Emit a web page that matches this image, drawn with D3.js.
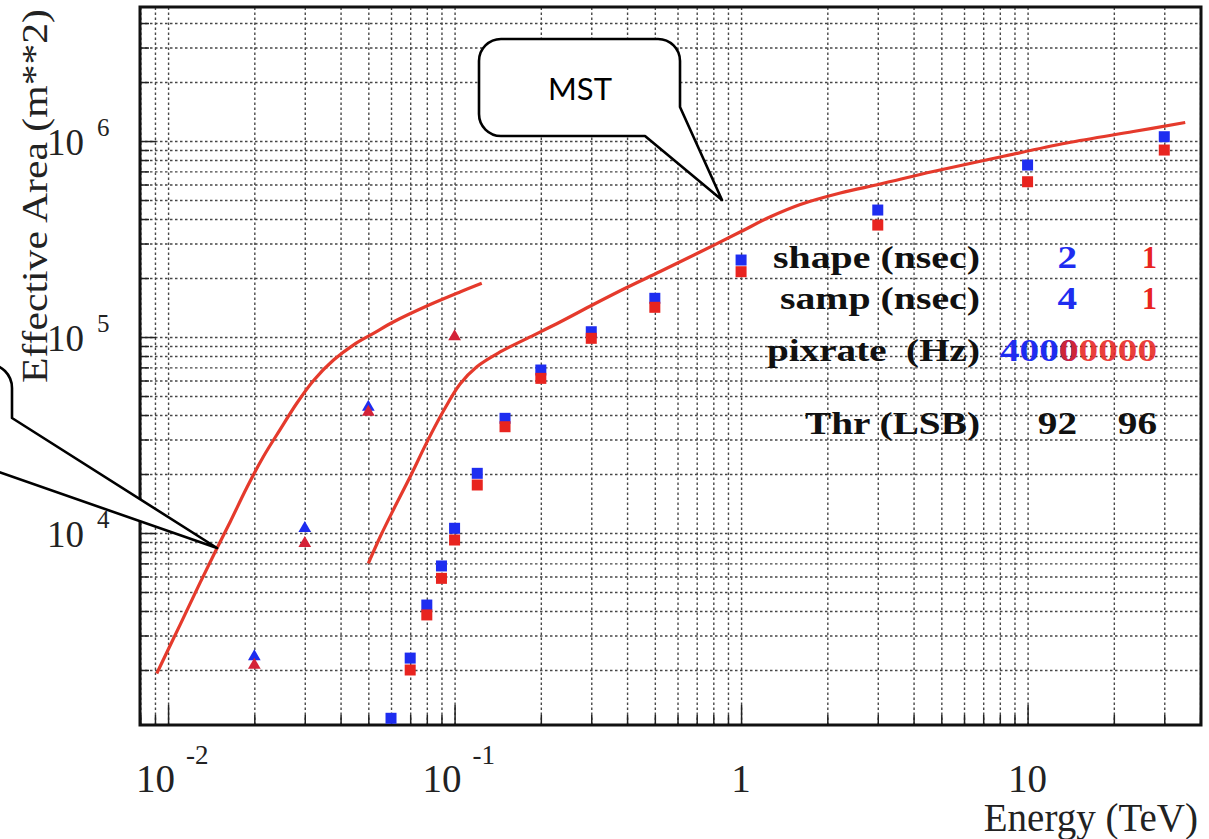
<!DOCTYPE html>
<html>
<head>
<meta charset="utf-8">
<script src="https://cdn.jsdelivr.net/npm/d3@7"></script>
<style>
  html, body { margin: 0; padding: 0; background: #fff; }
  svg { display: block; }
</style>
</head>
<body>
<svg id="chart" width="1209" height="839"></svg>
<script>
// ---------------- DATA ----------------
// Left (LST) red curve
const lstCurveE = [0.00913, 0.0110, 0.0129, 0.0148, 0.0165, 0.0188, 0.0215, 0.0246, 0.0281, 0.0322, 0.0378, 0.0443, 0.0521, 0.0611, 0.0800, 0.1045, 0.1244];
const lstCurveA = [1920, 3390, 5530, 8330, 11450, 16970, 24500, 33700, 45800, 60000, 76300, 91000, 104400, 119300, 143900, 169700, 187900];
// MST red curve
const mstCurveE = [0.0500, 0.0550, 0.0611, 0.0699, 0.0800, 0.0914, 0.1045, 0.1196, 0.1442, 0.1786, 0.2335, 0.305, 0.399, 0.522, 0.719, 0.992, 1.26, 1.61, 2.22, 3.06, 4.68, 8.02, 13.7, 23.4, 35.5];
const mstCurveA = [7000, 9570, 13100, 19300, 29000, 41900, 57600, 70600, 83900, 98200, 119300, 146500, 178900, 215900, 271500, 343400, 409400, 474300, 542900, 603500, 698900, 828600, 977000, 1118000, 1243000];
// square markers (blue = shape 2 / samp 4, red = shape 1 / samp 1)
const squareE      = [0.06, 0.07, 0.08, 0.09, 0.1, 0.12, 0.15, 0.2, 0.3, 0.5, 1, 3, 10, 30];
const blueSquareA  = [1134, 2300, 4290, 6790, 10570, 20160, 38470, 67870, 106400, 157600, 247100, 444600, 754300, 1052000];
const redSquareA   = [null, 2000, 3820, 5870, 9210, 17580, 34860, 61530, 98500, 141800, 215400, 372600, 619900, 899500];
// triangle markers
const triE         = [0.02, 0.03, 0.05, 0.1];
const blueTriA     = [2340, 10570, 43950, null];
const redTriA      = [2120, 8860, 41430, 100400];
// axis ticks
const xMajorTicks  = [0.01, 0.1, 1, 10];
const xTickBase    = ["10", "10", "1", "10"];
const xTickExp     = ["-2", "-1", "", ""];
const yMajorTicks  = [1e4, 1e5, 1e6];
const yTickBase    = ["10", "10", "10"];
const yTickExp     = ["4", "5", "6"];
// legend table
const legendLabels = ["shape (nsec)", "samp (nsec)", "pixrate  (Hz)", "Thr (LSB)"];
const legendBlue   = ["2", "4", "4000", "92"];
const legendRed    = ["1", "1", "00000", "96"];

// ---------------- LAYOUT ----------------
const L = 140, R = 1201, T = 7, B = 725;
const svg = d3.select("#chart");
const x = d3.scaleLog().domain([0.00798, 40.3]).range([L, R]);
const y = d3.scaleLog().domain([1048, 4.83e6]).range([B, T]);

const BLUE = "#1e2df0", RED = "#e8241f", CURVE = "#e53a2c";
const serif = "'Liberation Serif', 'Times New Roman', serif";

function logVals(scale) {
  const [a, b] = scale.domain();
  const out = [];
  for (let d = Math.floor(Math.log10(a)); d <= Math.ceil(Math.log10(b)); d++) {
    for (let k = 1; k <= 9; k++) {
      const v = k * Math.pow(10, d);
      if (v > a * 1.001 && v < b * 0.999) out.push(v);
    }
  }
  return out;
}
const xGridVals = logVals(x);
const yGridVals = logVals(y);

// grid via axes
const gGrid = svg.append("g");
const gridStyle = g => g.selectAll("line").attr("stroke", "#474747").attr("stroke-width", 1.4).attr("stroke-dasharray", "2.5,2.5");
gGrid.append("g")
  .attr("transform", `translate(0,${B})`)
  .call(d3.axisBottom(x).tickValues(xGridVals).tickSize(-(B - T)).tickFormat(""))
  .call(g => g.select(".domain").remove())
  .call(gridStyle);
gGrid.append("g")
  .attr("transform", `translate(${L},0)`)
  .call(d3.axisLeft(y).tickValues(yGridVals).tickSize(-(R - L)).tickFormat(""))
  .call(g => g.select(".domain").remove())
  .call(gridStyle);

// tick marks (inside)
const xMinor = xGridVals.filter(v => !xMajorTicks.includes(v));
const yMinor = yGridVals.filter(v => !yMajorTicks.includes(v));
function tickAxis(axis, vals, len, tr) {
  svg.append("g").attr("transform", tr)
    .call(axis.tickValues(vals).tickSize(-len).tickFormat(""))
    .call(g => g.select(".domain").remove())
    .call(g => g.selectAll("line").attr("stroke", "#222").attr("stroke-width", 1.5));
}
tickAxis(d3.axisBottom(x), xMinor, 10, `translate(0,${B})`);
tickAxis(d3.axisBottom(x), xMajorTicks, 20, `translate(0,${B})`);
tickAxis(d3.axisLeft(y), yMinor, 9, `translate(${L},0)`);
tickAxis(d3.axisLeft(y), yMajorTicks, 16, `translate(${L},0)`);

// frame
svg.append("rect").attr("x", L).attr("y", T).attr("width", R - L).attr("height", B - T)
  .attr("fill", "none").attr("stroke", "#111").attr("stroke-width", 3);

// clip
svg.append("clipPath").attr("id", "plotclip").append("rect")
  .attr("x", L).attr("y", T).attr("width", R - L).attr("height", B - T);
const plot = svg.append("g").attr("clip-path", "url(#plotclip)");

// curves
const line = d3.line().x(d => x(d[0])).y(d => y(d[1])).curve(d3.curveCatmullRom.alpha(0.5));
plot.append("path").datum(lstCurveE.map((e, i) => [e, lstCurveA[i]]))
  .attr("d", line).attr("fill", "none").attr("stroke", CURVE).attr("stroke-width", 3.2);
plot.append("path").datum(mstCurveE.map((e, i) => [e, mstCurveA[i]]))
  .attr("d", line).attr("fill", "none").attr("stroke", CURVE).attr("stroke-width", 3.2);

// markers
const sqW = 11, sqH = 11;
function squares(vals, color) {
  plot.append("g").selectAll("rect")
    .data(squareE.map((e, i) => [e, vals[i]]).filter(d => d[1] != null))
    .join("rect")
    .attr("x", d => x(d[0]) - sqW / 2).attr("y", d => y(d[1]) - sqH / 2)
    .attr("width", sqW).attr("height", sqH).attr("fill", color);
}
squares(blueSquareA, BLUE);
squares(redSquareA, RED);
const triSym = d3.symbol().type(d3.symbolTriangle).size(70);
function triangles(vals, color) {
  plot.append("g").selectAll("path")
    .data(triE.map((e, i) => [e, vals[i]]).filter(d => d[1] != null))
    .join("path")
    .attr("transform", d => `translate(${x(d[0])},${y(d[1])})`)
    .attr("d", triSym).attr("fill", color);
}
triangles(blueTriA, BLUE);
triangles(redTriA, "#d42238");

// x tick labels
xMajorTicks.forEach((v, i) => {
  const px = x(v);
  if (xTickExp[i]) {
    svg.append("text").attr("x", px + 7).attr("y", 792).attr("text-anchor", "end")
      .attr("font-family", serif).attr("font-size", 39).attr("fill", "#222").text(xTickBase[i]);
    svg.append("text").attr("x", px + 18).attr("y", 764)
      .attr("font-family", serif).attr("font-size", 27).attr("fill", "#222").text(xTickExp[i]);
  } else {
    svg.append("text").attr("x", px).attr("y", 792).attr("text-anchor", "middle")
      .attr("font-family", serif).attr("font-size", 39).attr("fill", "#222").text(xTickBase[i]);
  }
});
// y tick labels
yMajorTicks.forEach((v, i) => {
  const py = y(v);
  svg.append("text").attr("x", 47).attr("y", py + 14)
    .attr("font-family", serif).attr("font-size", 37).attr("fill", "#222").text(yTickBase[i]);
  svg.append("text").attr("x", 97).attr("y", py - 5)
    .attr("font-family", serif).attr("font-size", 25).attr("fill", "#222").text(yTickExp[i]);
});

// axis titles
svg.append("text").attr("x", 1198).attr("y", 831).attr("text-anchor", "end")
  .attr("font-family", serif).attr("font-size", 39).attr("fill", "#222").text("Energy (TeV)");
svg.append("text").attr("transform", "translate(47,383) rotate(-90)")
  .attr("font-family", serif).attr("font-size", 36).attr("fill", "#222")
  .attr("textLength", 374).attr("lengthAdjust", "spacingAndGlyphs")
  .text("Effective Area (m**2)");

// legend table
const rowY = [268, 309, 361, 434];
const lg = svg.append("g").attr("font-family", serif).attr("font-weight", "bold").attr("font-size", 32);
const labelW = [207, 200, 213, 175];
legendLabels.forEach((t, i) => {
  lg.append("text").attr("x", 980 - labelW[i]).attr("y", rowY[i]).attr("fill", "#111")
    .attr("textLength", labelW[i]).attr("lengthAdjust", "spacingAndGlyphs")
    .style("white-space", "pre").text(t);
});
const DIGIT = 19.6;
legendBlue.forEach((t, i) => {
  const col = i === 3 ? "#111" : BLUE;
  const x0 = t.length === 4 ? 1000 : 1077 - t.length * DIGIT;
  lg.append("text").attr("x", x0).attr("y", rowY[i]).attr("fill", col)
    .attr("textLength", t.length * DIGIT).attr("lengthAdjust", "spacingAndGlyphs").text(t);
});
legendRed.forEach((t, i) => {
  const col = i === 3 ? "#111" : RED;
  const w = t.length === 1 ? 15 : t.length * DIGIT;
  lg.append("text").attr("x", 1157 - w).attr("y", rowY[i]).attr("fill", col)
    .attr("fill-opacity", t.length > 2 ? 0.88 : 1)
    .attr("textLength", w).attr("lengthAdjust", "spacingAndGlyphs").text(t);
});

// callouts
function callout(b, ptr) {
  const r = b.r;
  const p = d3.path();
  p.moveTo(b.x0 + r, b.y0);
  p.lineTo(b.x1 - r, b.y0);
  p.arcTo(b.x1, b.y0, b.x1, b.y0 + r, r);
  p.lineTo(b.x1, ptr.y1);
  p.lineTo(ptr.tx, ptr.ty);
  p.lineTo(ptr.x2, b.y1);
  p.lineTo(b.x0 + r, b.y1);
  p.arcTo(b.x0, b.y1, b.x0, b.y1 - r, r);
  p.lineTo(b.x0, b.y0 + r);
  p.arcTo(b.x0, b.y0, b.x0 + r, b.y0, r);
  p.closePath();
  svg.append("path").attr("d", p.toString()).attr("fill", "#fff")
    .attr("stroke", "#000").attr("stroke-width", 2.6).attr("stroke-linejoin", "round");
}
callout({x0: 479, y0: 39, x1: 680, y1: 136, r: 22}, {y1: 107, tx: 722, ty: 200, x2: 645});
callout({x0: -200, y0: 364, x1: 12, y1: 462, r: 24}, {y1: 418, tx: 217, ty: 548, x2: -30});
svg.append("text").attr("x", 580).attr("y", 100).attr("text-anchor", "middle")
  .attr("font-family", "Lato, 'Open Sans', sans-serif").attr("font-size", 31).attr("fill", "#000").text("MST");
</script>
</body>
</html>
